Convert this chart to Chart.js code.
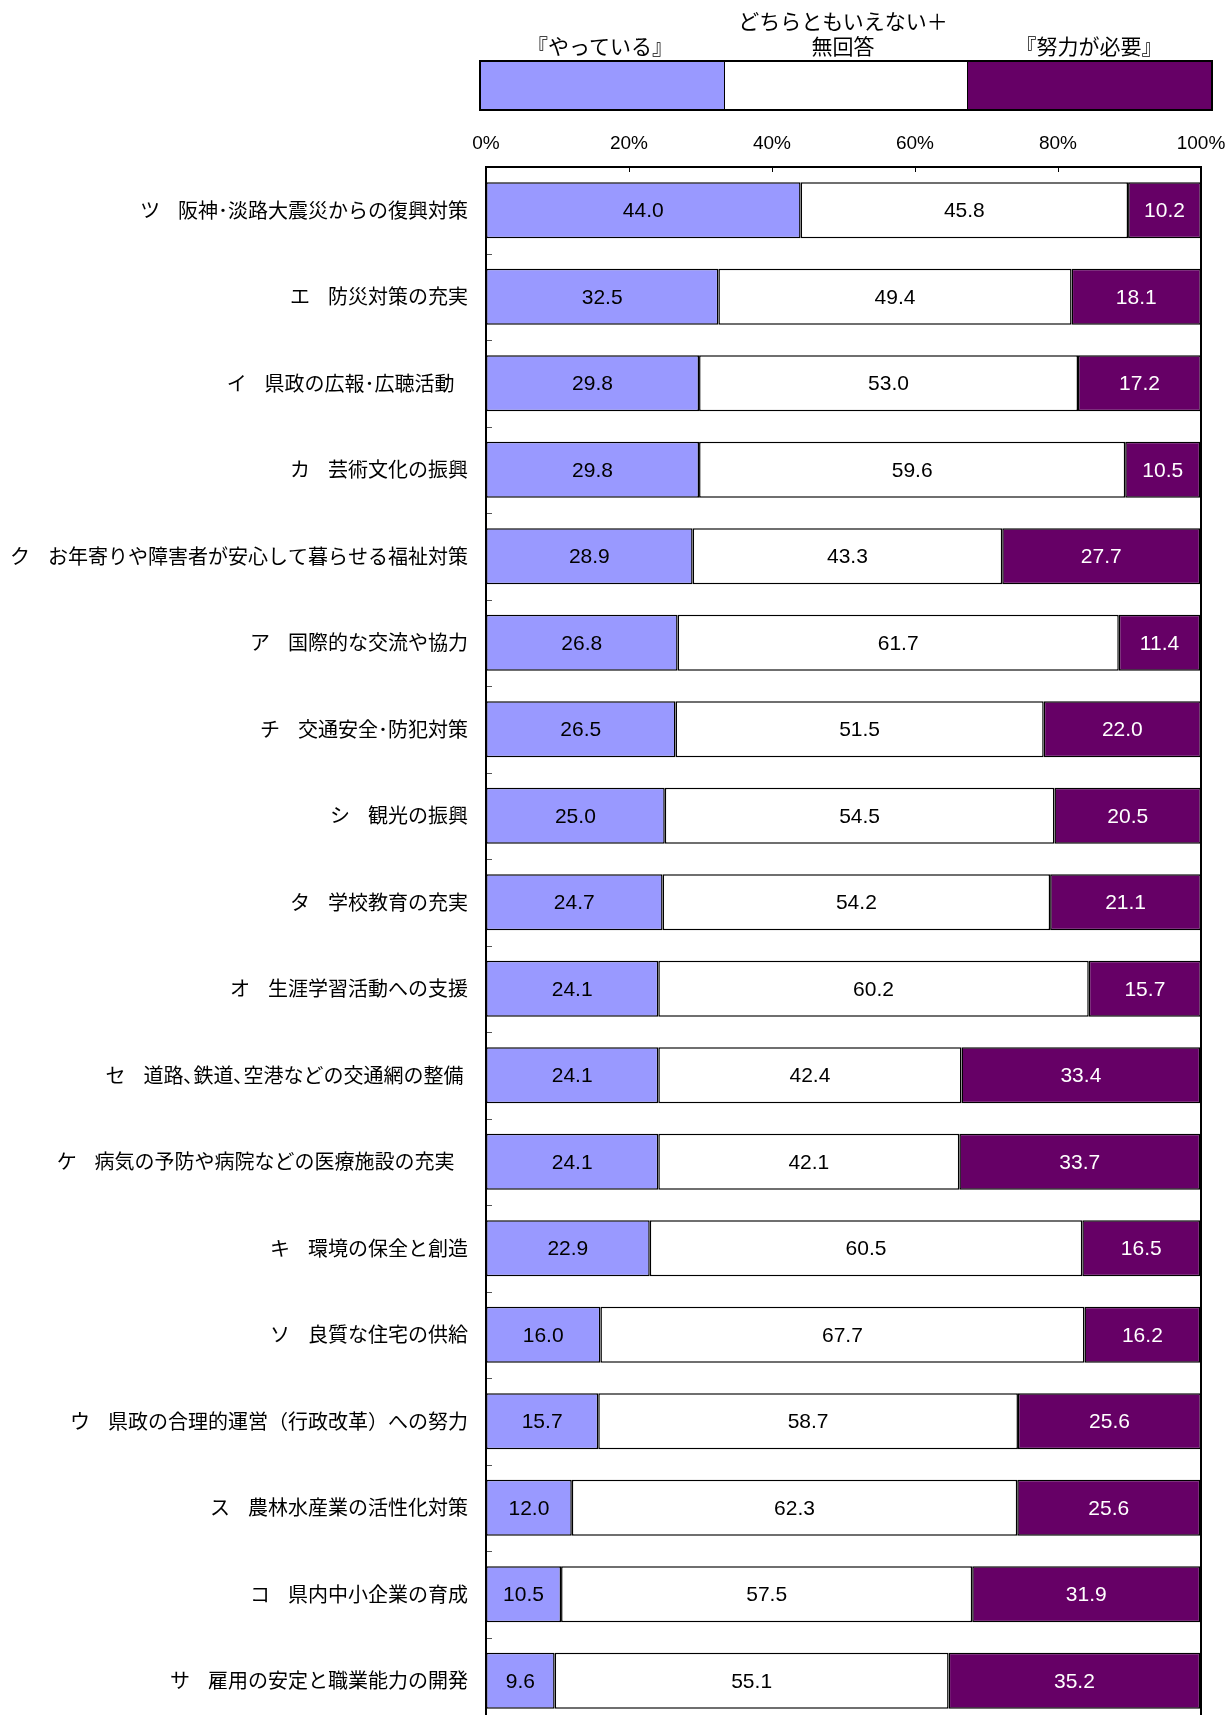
<!DOCTYPE html>
<html lang="ja">
<head>
<meta charset="utf-8">
<script src="https://cdn.jsdelivr.net/npm/chart.js@4.4.1/dist/chart.umd.min.js"></script>
<style>
  html, body { margin: 0; padding: 0; background: #fff; overflow: hidden; }
  #wrap { position: relative; width: 1227px; height: 1715px; overflow: hidden; }
  #chart { position: absolute; left: 0; top: 0; }
  .key { position: absolute; font-family: 'Noto Sans CJK JP', sans-serif; font-size: 21px; line-height: 25px; text-align: center; color: #000; white-space: nowrap; transform: translateX(-50%); }
  #keyBar { position: absolute; left: 479px; top: 60px; width: 734px; height: 51px; box-sizing: border-box; border: 2px solid #000; display: flex; }
  #keyBar div { flex: 1; height: 100%; }
  #keyBar div + div { border-left: 1.5px solid #000; }
</style>
</head>
<body>
<div id="wrap">
  <canvas id="chart" width="1227" height="1740"></canvas>
  <div class="key" style="left:600px; top:33px;">『やっている』</div>
  <div class="key" style="left:843px; top:8px;">どちらともいえない＋<br>無回答</div>
  <div class="key" style="left:1089px; top:33px;">『努力が必要』</div>
  <div id="keyBar"></div>
</div>
<script>
// categories (top to bottom)
const categories = [
  'ツ    阪神･淡路大震災からの復興対策',
  'エ    防災対策の充実',
  'イ    県政の広報･広聴活動   ',
  'カ    芸術文化の振興',
  'ク    お年寄りや障害者が安心して暮らせる福祉対策',
  'ア    国際的な交流や協力',
  'チ    交通安全･防犯対策',
  'シ    観光の振興',
  'タ    学校教育の充実',
  'オ    生涯学習活動への支援',
  'セ    道路､鉄道､空港などの交通網の整備 ',
  'ケ    病気の予防や病院などの医療施設の充実   ',
  'キ    環境の保全と創造',
  'ソ    良質な住宅の供給',
  'ウ    県政の合理的運営（行政改革）への努力',
  'ス    農林水産業の活性化対策',
  'コ    県内中小企業の育成',
  'サ    雇用の安定と職業能力の開発'
];

// series values (%)
const doing   = [44.0, 32.5, 29.8, 29.8, 28.9, 26.8, 26.5, 25.0, 24.7, 24.1, 24.1, 24.1, 22.9, 16.0, 15.7, 12.0, 10.5, 9.6];
const neutral = [45.8, 49.4, 53.0, 59.6, 43.3, 61.7, 51.5, 54.5, 54.2, 60.2, 42.4, 42.1, 60.5, 67.7, 58.7, 62.3, 57.5, 55.1];
const effort  = [10.2, 18.1, 17.2, 10.5, 27.7, 11.4, 22.0, 20.5, 21.1, 15.7, 33.4, 33.7, 16.5, 16.2, 25.6, 25.6, 31.9, 35.2];

const seriesNames = ['『やっている』', 'どちらともいえない＋無回答', '『努力が必要』'];
const seriesColors = ['#9999FF', '#FFFFFF', '#660066'];
const labelColors = ['#000000', '#000000', '#FFFFFF'];

// x tick values
const xTicks = [0, 20, 40, 60, 80, 100];

// key bar swatches
const keyBar = document.getElementById('keyBar');
seriesColors.forEach(c => {
  const d = document.createElement('div');
  d.style.background = c;
  keyBar.appendChild(d);
});

const numFont = "'Liberation Sans', Arial, sans-serif";
const jpFont = "'Noto Sans CJK JP', sans-serif";

// value labels, frame and inward tick marks
const decorations = {
  id: 'decorations',
  afterDatasetsDraw(chart) {
    const ctx = chart.ctx;
    ctx.save();
    ctx.font = `21px ${numFont}`;
    ctx.textAlign = 'center';
    ctx.textBaseline = 'middle';
    chart.data.datasets.forEach((ds, i) => {
      const meta = chart.getDatasetMeta(i);
      ctx.fillStyle = labelColors[i];
      meta.data.forEach((bar, j) => {
        const p = bar.getCenterPoint();
        ctx.fillText(ds.data[j].toFixed(1), p.x, p.y + 1);
      });
    });
    ctx.restore();
  },
  afterDraw(chart) {
    const ctx = chart.ctx;
    const a = chart.chartArea;
    const xs = chart.scales.x;
    const ys = chart.scales.y;
    ctx.save();
    ctx.strokeStyle = '#000';
    ctx.lineWidth = 1;
    // x ticks pointing down from the top edge
    xTicks.slice(1, -1).forEach(v => {
      const x = Math.round(xs.getPixelForValue(v)) + 0.5;
      ctx.beginPath();
      ctx.moveTo(x, a.top);
      ctx.lineTo(x, a.top + 5);
      ctx.stroke();
    });
    // y ticks at category boundaries
    ctx.strokeStyle = '#555';
    for (let i = 0; i < categories.length - 1; i++) {
      const y = Math.round((ys.getPixelForValue(i) + ys.getPixelForValue(i + 1)) / 2) + 0.5;
      ctx.beginPath();
      ctx.moveTo(a.left, y);
      ctx.lineTo(a.left + 6, y);
      ctx.stroke();
    }
    ctx.strokeStyle = '#000';
    ctx.lineWidth = 2;
    ctx.strokeRect(a.left, a.top, a.right - a.left, a.bottom - a.top);
    ctx.restore();
  }
};

new Chart(document.getElementById('chart').getContext('2d'), {
  type: 'bar',
  data: {
    labels: categories,
    datasets: [doing, neutral, effort].map((d, i) => ({
      label: seriesNames[i],
      data: d,
      backgroundColor: seriesColors[i],
      borderColor: '#000',
      borderWidth: 1.5,
      borderSkipped: false,
      categoryPercentage: 1,
      barPercentage: 0.645
    }))
  },
  options: {
    indexAxis: 'y',
    responsive: false,
    animation: false,
    layout: { padding: { top: 0, right: 26, bottom: 16, left: 0 } },
    scales: {
      x: {
        position: 'top',
        stacked: true,
        min: 0,
        max: 100,
        afterFit: s => { s.height = 167; s.paddingLeft = 0; s.paddingRight = 0; },
        afterBuildTicks: s => { s.ticks = xTicks.map(v => ({ value: v })); },
        ticks: {
          padding: 4,
          color: '#000',
          font: { family: numFont, size: 19 },
          callback: v => v + '%'
        },
        grid: { display: false },
        border: { display: false }
      },
      y: {
        stacked: true,
        afterFit: s => { s.width = 486; s.paddingTop = 0; s.paddingBottom = 0; },
        ticks: {
          padding: 10,
          color: '#000',
          font: { family: jpFont, size: 20 }
        },
        grid: { display: false },
        border: { display: false }
      }
    },
    plugins: {
      legend: { display: false },
      tooltip: { enabled: false }
    }
  },
  plugins: [decorations]
});
</script>
</body>
</html>
